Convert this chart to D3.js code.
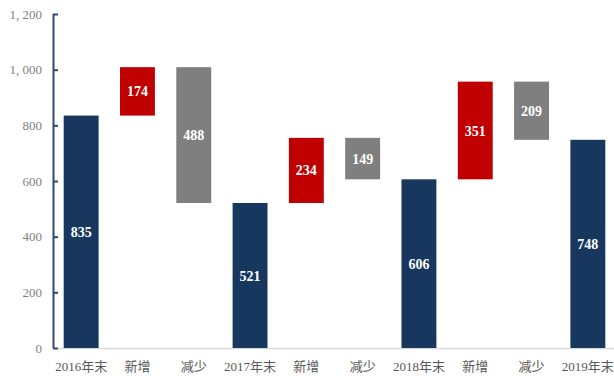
<!DOCTYPE html>
<html>
<head>
<meta charset="utf-8">
<script src="https://cdn.jsdelivr.net/npm/d3@7"></script>
<style>
  html, body { margin: 0; padding: 0; background: #fff; }
  svg { display: block; }
  .tick text { font-family: "Liberation Serif", "Noto Sans CJK SC", serif; }
</style>
</head>
<body>
<svg id="chart" width="614" height="376"></svg>
<script>
// Waterfall of year-end balances with additions and reductions
const categories = ["2016年末", "新增", "减少", "2017年末", "新增", "减少", "2018年末", "新增", "减少", "2019年末"];
const kinds      = ["total", "up", "down", "total", "up", "down", "total", "up", "down", "total"];
const amounts    = [835, 174, 488, 521, 234, 149, 606, 351, 209, 748];
const yTicks     = [0, 200, 400, 600, 800, 1000, 1200];

const colors = { total: "#17375E", up: "#C00000", down: "#7F7F7F" };

// Build floating segments from running balance
let running = 0;
const bars = categories.map((c, i) => {
  const k = kinds[i], v = amounts[i];
  let y0, y1;
  if (k === "total") { y0 = 0; y1 = v; running = v; }
  else if (k === "up") { y0 = running; y1 = running + v; running += v; }
  else { y0 = running - v; y1 = running; running -= v; }
  return { i, cat: c, kind: k, value: v, y0, y1 };
});

const svg = d3.select("#chart");
const plotLeft = 53, plotRight = 616, plotTop = 14, plotBottom = 348;

const x = d3.scaleBand().domain(d3.range(categories.length)).range([plotLeft, plotRight]).paddingInner(0.38).paddingOuter(0.19);
const y = d3.scaleLinear().domain([0, 1200]).range([plotBottom, plotTop]);

// x baseline
svg.append("line")
  .attr("x1", plotLeft).attr("x2", 614)
  .attr("y1", plotBottom + 0.5).attr("y2", plotBottom + 0.5)
  .attr("stroke", "#D9D9D9").attr("stroke-width", 1.5);

// bars
svg.append("g").selectAll("rect").data(bars).join("rect")
  .attr("x", d => x(d.i))
  .attr("width", x.bandwidth())
  .attr("y", d => y(d.y1))
  .attr("height", d => y(d.y0) - y(d.y1))
  .attr("fill", d => colors[d.kind]);

// value labels
svg.append("g").selectAll("text").data(bars).join("text")
  .attr("x", d => x(d.i) + x.bandwidth() / 2)
  .attr("y", d => y((d.y0 + d.y1) / 2))
  .attr("dy", "0.36em")
  .attr("text-anchor", "middle")
  .attr("fill", "#fff")
  .attr("font-family", "Liberation Serif, serif")
  .attr("font-weight", "bold")
  .attr("font-size", 14)
  .text(d => d.value);

// y axis
const yAxis = d3.axisRight(y).tickValues(yTicks).tickSize(5).tickPadding(0)
  .tickFormat(v => d3.format(",")(v).replace(",", ", "));
const gy = svg.append("g").attr("transform", `translate(${plotLeft},0)`).call(yAxis);
gy.select(".domain").attr("stroke", "#2E4A6F").attr("stroke-width", 2).attr("d", `M0.5,${plotTop}V${plotBottom}`);
gy.selectAll(".tick line").attr("stroke", "#2E4A6F").attr("stroke-width", 2);
gy.selectAll(".tick text")
  .attr("x", -11).attr("text-anchor", "end")
  .attr("fill", "#7F7F7F").attr("font-size", 13);

// x category labels
svg.append("g").selectAll("text").data(bars).join("text")
  .attr("x", d => x(d.i) + x.bandwidth() / 2)
  .attr("y", 366)
  .attr("dy", "0.36em")
  .attr("text-anchor", "middle")
  .attr("fill", "#595959")
  .attr("font-family", "Liberation Serif, Noto Sans CJK SC, serif")
  .attr("font-size", 13)
  .text(d => d.cat);
</script>
</body>
</html>
